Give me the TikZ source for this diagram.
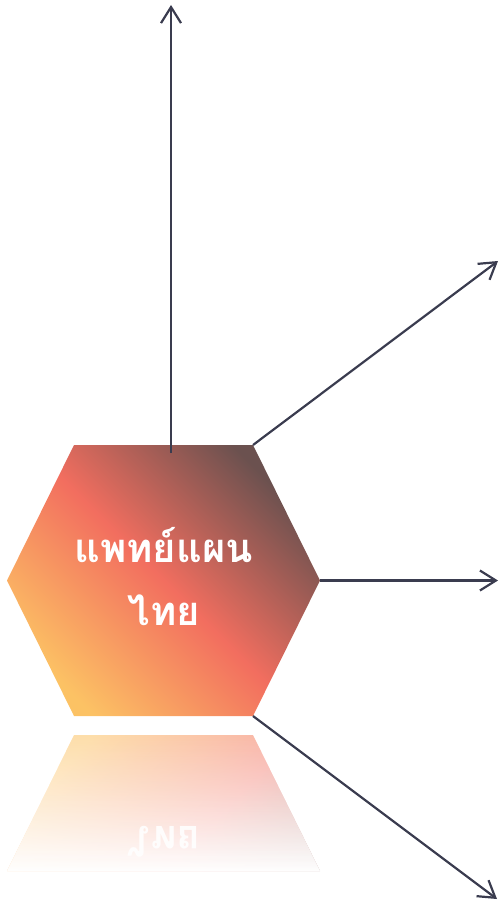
\documentclass[tikz,border=0pt]{standalone}
\usepackage{fontspec}
\newfontfamily\thaifont[Script=Thai]{Loma}
\usetikzlibrary{arrows.meta,fadings}
\definecolor{hexyellow}{HTML}{FCC264}
\definecolor{hexcoral}{HTML}{F26E5F}
\definecolor{hexdark}{HTML}{6B514F}
\definecolor{linecol}{HTML}{3A3C4F}
\tikzfading[name=whiten, top color=transparent!100, bottom color=transparent!0]
\begin{document}
\begin{tikzpicture}[x=1pt,y=-1pt,
  conn/.style={draw=linecol, line width=2.2pt, -{Straight Barb[length=16pt,width=20pt]}},
  hexfill/.style={left color=hexyellow, right color=hexdark, middle color=hexcoral, shading angle=135},
  reflfill/.style={left color=hexyellow, right color=hexdark, middle color=hexcoral, shading angle=45, opacity=0.55},
  thaitext/.style={text=white, inner sep=0pt, anchor=base, font=\thaifont\bfseries\fontsize{40}{48}\selectfont}]
\useasboundingbox (0,0) rectangle (500,901);
% hexagon corners
\coordinate (hexTL) at (74,445);
\coordinate (hexTR) at (253,445);
\coordinate (hexR) at (320,580.5);
\coordinate (hexBR) at (253,716);
\coordinate (hexBL) at (74,716);
\coordinate (hexL) at (7,580.5);
\coordinate (topstart) at (171,453);
\coordinate (topend) at (171,5);
\coordinate (urend) at (498,261);
\coordinate (rend) at (498,580.5);
\coordinate (drend) at (497,899);
% reflection
\begin{scope}
  \clip (74,735) -- (253,735) -- (320,871) -- (7,871) -- cycle;
  \path[reflfill] (74,735) -- (253,735) -- (320,871) -- (253,1006) -- (74,1006) -- (7,871) -- cycle;
  \node[thaitext, yscale=-1, transform shape, opacity=0.9] (refltext) at (164,826) {ไทย};
  \fill[white, path fading=whiten] (0,735) rectangle (330,872);
\end{scope}
% hexagon
\path[hexfill] (hexTL) -- (hexTR) -- (hexR) -- (hexBR) -- (hexBL) -- (hexL) -- cycle;
\node[thaitext] (line1) at (163.5,562) {แพทย์แผน};
\node[thaitext] (line2) at (164,625) {ไทย};
% connectors
\draw[conn] (topstart) -- (topend);
\draw[conn] (hexTR) -- (urend);
\draw[conn] (hexR) -- (rend);
\draw[conn] (hexBR) -- (drend);
\end{tikzpicture}
\end{document}
